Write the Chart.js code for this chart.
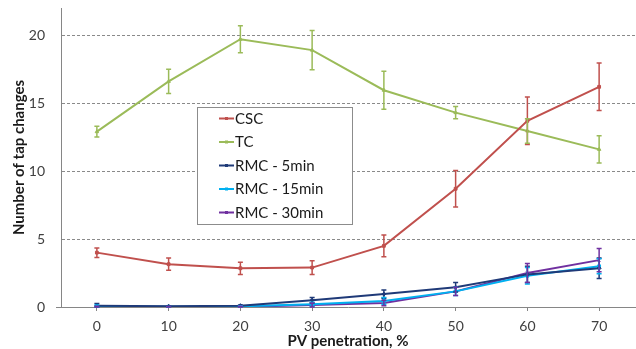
<!DOCTYPE html>
<html>
<head>
<meta charset="utf-8">
<script src="https://cdn.jsdelivr.net/npm/chart.js@4.4.1/dist/chart.umd.min.js"></script>
<style>
  html, body { margin: 0; padding: 0; background: #fff; }
  #wrap { width: 636px; height: 349px; }
</style>
</head>
<body>
<div id="wrap"><canvas id="tapChart" width="636" height="349"></canvas></div>
<script>
const pvLevels = ['0', '10', '20', '30', '40', '50', '60', '70'];

const cscValues = [4.0, 3.15, 2.85, 2.9, 4.5, 8.7, 13.7, 16.2];
const cscErrors = [0.35, 0.45, 0.45, 0.5, 0.8, 1.35, 1.75, 1.75];

const tcValues = [12.9, 16.6, 19.7, 18.9, 15.95, 14.3, 12.95, 11.6];
const tcErrors = [0.4, 0.9, 1.0, 1.45, 1.4, 0.45, 0.9, 1.0];

const rmc5Values = [0.1, 0.05, 0.1, 0.5, 0.95, 1.45, 2.4, 2.85];
const rmc5Errors = [0.15, 0.05, 0.05, 0.2, 0.3, 0.35, 0.6, 0.75];

const rmc15Values = [0.05, 0.02, 0.05, 0.2, 0.45, 1.15, 2.3, 3.0];
const rmc15Errors = [0.1, 0.02, 0.05, 0.15, 0.25, 0.3, 0.6, 0.55];

const rmc30Values = [0.0, 0.02, 0.0, 0.15, 0.3, 1.15, 2.5, 3.45];
const rmc30Errors = [0.05, 0.02, 0.05, 0.15, 0.2, 0.3, 0.7, 0.85];

const yTicks = [0, 5, 10, 15, 20];

const FONT = 'Lato';

const makeSeries = (label, values, errors, color, pointStyle) => ({
    label: label,
    data: values,
    errors: errors,
    borderColor: color,
    backgroundColor: color,
    borderWidth: 2,
    pointStyle: pointStyle,
    pointRadius: 2,
    pointBorderWidth: 1,
    tension: 0,
    fill: false
});

// vertical error bars with small caps
const errorBars = {
    id: 'errorBars',
    afterDatasetsDraw(chart) {
        const ctx = chart.ctx;
        const x = chart.scales.x;
        const y = chart.scales.y;
        chart.data.datasets.forEach((ds) => {
            if (!ds.errors) return;
            ctx.save();
            ctx.strokeStyle = ds.borderColor;
            ctx.lineWidth = 1.5;
            ds.data.forEach((v, i) => {
                const e = ds.errors[i];
                const px = x.getPixelForValue(i);
                const top = y.getPixelForValue(v + e);
                const bot = y.getPixelForValue(Math.max(0, v - e));
                ctx.beginPath();
                ctx.moveTo(px, top); ctx.lineTo(px, bot);
                ctx.moveTo(px - 2.5, top); ctx.lineTo(px + 2.5, top);
                ctx.moveTo(px - 2.5, bot); ctx.lineTo(px + 2.5, bot);
                ctx.stroke();
            });
            ctx.restore();
        });
    }
};

// boxed legend sitting inside the plot
const boxLegend = {
    id: 'boxLegend',
    afterDraw(chart) {
        const ctx = chart.ctx;
        const bx = 197, by = 107, bw = 155, bh = 117;
        ctx.save();
        ctx.fillStyle = '#fff';
        ctx.fillRect(bx, by, bw, bh);
        ctx.strokeStyle = '#8c8c8c';
        ctx.lineWidth = 1;
        ctx.strokeRect(bx + 0.5, by + 0.5, bw, bh);
        ctx.font = '15px ' + FONT;
        ctx.textBaseline = 'middle';
        chart.data.datasets.forEach((ds, i) => {
            const cy = by + 11.5 + i * 23.5;
            ctx.strokeStyle = ds.borderColor;
            ctx.lineWidth = 2;
            ctx.beginPath();
            ctx.moveTo(219, cy); ctx.lineTo(234, cy);
            ctx.stroke();
            ctx.fillStyle = ds.borderColor;
            ctx.fillRect(225, cy - 1.5, 3, 3);
            ctx.fillStyle = '#1a1a1a';
            ctx.fillText(ds.label, 235, cy + 0.5);
        });
        ctx.restore();
    }
};

new Chart(document.getElementById('tapChart'), {
    type: 'line',
    data: {
        labels: pvLevels,
        datasets: [
            makeSeries('CSC', cscValues, cscErrors, '#C0504D', 'rect'),
            makeSeries('TC', tcValues, tcErrors, '#9BBB59', 'triangle'),
            makeSeries('RMC - 5min', rmc5Values, rmc5Errors, '#1F3A78', 'rectRot'),
            makeSeries('RMC - 15min', rmc15Values, rmc15Errors, '#00B0F0', 'rect'),
            makeSeries('RMC - 30min', rmc30Values, rmc30Errors, '#7030A0', 'crossRot')
        ]
    },
    options: {
        responsive: false,
        animation: false,
        layout: { autoPadding: false, padding: { top: 8, right: 1, left: 0, bottom: 0 } },
        plugins: {
            legend: { display: false },
            tooltip: { enabled: false }
        },
        scales: {
            x: {
                offset: true,
                grid: {
                    drawOnChartArea: false,
                    drawTicks: true,
                    tickLength: 4,
                    tickColor: '#868686'
                },
                border: { color: '#868686', width: 1 },
                ticks: {
                    color: '#404040',
                    font: { family: FONT, size: 14 },
                    padding: 7,
                    maxRotation: 0
                },
                title: {
                    display: true,
                    text: 'PV penetration, %',
                    color: '#1a1a1a',
                    font: { family: FONT, size: 15, weight: 'bold', lineHeight: 1 },
                    padding: { top: 0, bottom: 0 }
                },
                afterFit(scale) {
                    scale.height = 42;
                    scale.paddingLeft = 0;
                    scale.paddingRight = 0;
                }
            },
            y: {
                min: 0,
                max: 22,
                afterBuildTicks(scale) { scale.ticks = yTicks.map(v => ({ value: v })); },
                grid: {
                    color: c => c.tick && c.tick.value === 0 ? 'transparent' : '#8a8a8a',
                    lineWidth: 1,
                    drawTicks: true,
                    tickLength: 5,
                    tickColor: c => c.tick && c.tick.value === 0 ? '#868686' : 'transparent',
                    tickBorderDash: []
                },
                border: { color: '#868686', width: 1, dash: [3, 2] },
                ticks: {
                    color: '#404040',
                    font: { family: FONT, size: 14 },
                    padding: 11
                },
                title: {
                    display: true,
                    text: 'Number of tap changes',
                    color: '#1a1a1a',
                    font: { family: FONT, size: 15, weight: 'bold', lineHeight: 1.2 },
                    padding: { top: 10, bottom: 0 }
                },
                afterFit(scale) {
                    scale.width = 61;
                    scale.paddingTop = 0;
                    scale.paddingBottom = 0;
                }
            }
        }
    },
    plugins: [errorBars, boxLegend]
});
</script>
</body>
</html>
